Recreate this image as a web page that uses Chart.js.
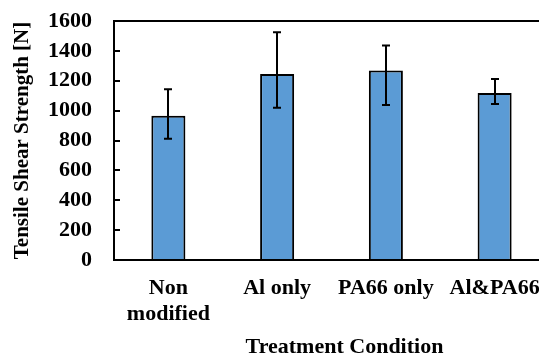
<!DOCTYPE html>
<html>
<head>
<meta charset="utf-8">
<script src="https://cdn.jsdelivr.net/npm/chart.js@4.4.1/dist/chart.umd.min.js"></script>
<style>
  html, body { margin: 0; padding: 0; background: #fff; overflow: hidden; width: 539px; height: 356px; }
  #wrap { width: 560px; height: 356px; position: relative; }
</style>
</head>
<body>
<div id="wrap"><canvas id="BarChart"></canvas></div>
<script>
// datos
const categories = [['Non', 'modified'], 'Al only', 'PA66 only', 'Al&PA66'];
const strength = [965, 1245, 1268, 1118];
const errHigh = [1143, 1525, 1436, 1212];
const errLow = [811, 1020, 1038, 1044];
const yTicks = [0, 200, 400, 600, 800, 1000, 1200, 1400, 1600];
const xTitle = 'Treatment Condition';

const fontFamily = '"Liberation Serif", "Times New Roman", serif';

document.addEventListener('DOMContentLoaded', function() {
    const canvasElement = document.getElementById('BarChart');

    // marco del area, ticks hacia adentro, barras de error y titulo del eje x
    const extras = {
        id: 'extras',
        afterDatasetsDraw(chart) {
            const ctx = chart.ctx;
            const area = chart.chartArea;
            const x = chart.scales.x;
            const y = chart.scales.y;
            ctx.save();
            ctx.strokeStyle = '#000';
            ctx.lineWidth = 2;

            // ticks interiores
            yTicks.forEach(v => {
                const py = Math.round(y.getPixelForValue(v));
                ctx.beginPath();
                ctx.moveTo(area.left, py);
                ctx.lineTo(area.left + 6, py);
                ctx.stroke();
            });

            // barras de error
            strength.forEach((v, i) => {
                const px = Math.round(x.getPixelForValue(i));
                const top = y.getPixelForValue(errHigh[i]);
                const bot = y.getPixelForValue(errLow[i]);
                ctx.beginPath();
                ctx.moveTo(px, top);
                ctx.lineTo(px, bot);
                ctx.moveTo(px - 4, top);
                ctx.lineTo(px + 4, top);
                ctx.moveTo(px - 4, bot);
                ctx.lineTo(px + 4, bot);
                ctx.stroke();
            });

            // marco
            ctx.strokeRect(area.left, area.top, area.right - area.left, area.bottom - area.top);

            // titulo del eje x (algo desplazado a la derecha como en el original)
            ctx.fillStyle = '#000';
            ctx.font = 'bold 22px ' + fontFamily;
            ctx.textAlign = 'center';
            ctx.textBaseline = 'middle';
            ctx.fillText(xTitle, (area.left + area.right) / 2 + 13, x.bottom - 9);
            ctx.restore();
        }
    };

    const config = {
        type: 'bar',
        data: {
            labels: categories,
            datasets: [{
                data: strength,
                backgroundColor: '#5B9BD5',
                borderColor: '#000',
                borderWidth: 2,
                barPercentage: 0.313,
                categoryPercentage: 1.0
            }]
        },
        options: {
            responsive: true,
            maintainAspectRatio: false,
            animation: false,
            layout: {
                padding: { top: 21, right: 11, bottom: 0, left: 0 }
            },
            scales: {
                x: {
                    grid: { display: false, drawTicks: false },
                    border: { display: true, color: '#000', width: 2 },
                    ticks: {
                        color: '#000',
                        padding: 16,
                        maxRotation: 0,
                        autoSkip: false,
                        font: { family: fontFamily, size: 22, weight: 'bold', lineHeight: 1.15 }
                    },
                    title: { display: false },
                    afterFit: function(scale) { scale.height = 96; }
                },
                y: {
                    min: 0,
                    max: 1600,
                    // marcas de tick transparentes: solo sirven de separacion
                    grid: { display: true, drawOnChartArea: false, drawTicks: true, tickLength: 20, tickColor: 'rgba(0,0,0,0)' },
                    border: { display: true, color: '#000', width: 2 },
                    afterBuildTicks: function(scale) {
                        scale.ticks = yTicks.map(v => ({ value: v }));
                    },
                    ticks: {
                        color: '#000',
                        padding: 2,
                        autoSkip: false,
                        callback: function(value) { return String(value); },
                        font: { family: fontFamily, size: 22, weight: 'bold' }
                    },
                    title: {
                        display: true,
                        text: 'Tensile Shear Strength [N]',
                        color: '#000',
                        padding: { top: 10, bottom: 0 },
                        font: { family: fontFamily, size: 21, weight: 'bold', lineHeight: 1.2 }
                    },
                    afterFit: function(scale) { scale.width = 114; }
                }
            },
            plugins: {
                legend: { display: false },
                tooltip: { enabled: false }
            }
        },
        plugins: [extras]
    };

    new Chart(canvasElement, config);
});
</script>
</body>
</html>
